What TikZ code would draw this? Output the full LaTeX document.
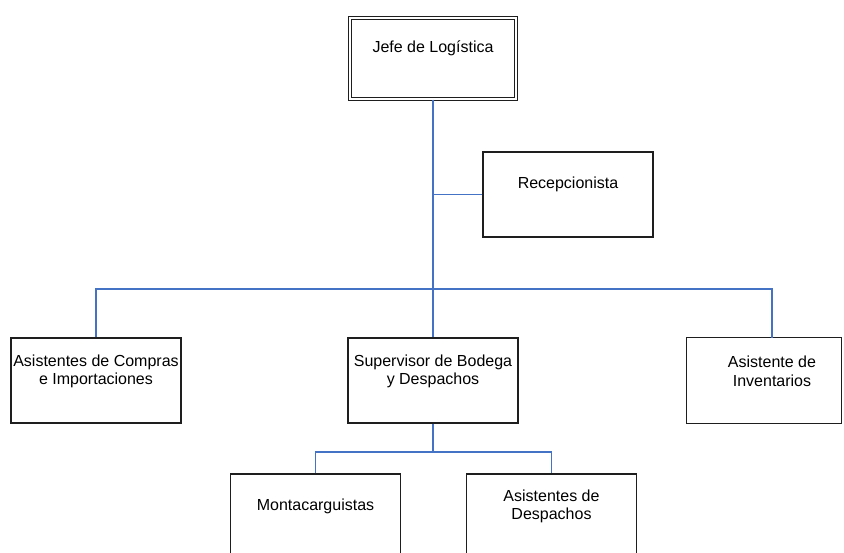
\documentclass[tikz,border=0pt]{standalone}
\usepackage{fontspec}
\setmainfont{Liberation Sans}
\definecolor{connblue}{RGB}{68,114,196}
\definecolor{boxline}{RGB}{30,30,30}
\begin{document}
\begin{tikzpicture}[x=1pt,y=-1pt,
  box/.style={draw=boxline, line width=1.3pt, minimum width=170pt, minimum height=85pt, inner sep=0pt},
  hiddenbox/.style={draw=none, minimum width=170pt, minimum height=85pt, inner sep=0pt},
  lbl/.style={align=center, inner sep=0pt, font=\fontsize{16}{18.5}\selectfont},
  conn/.style={draw=connblue, line width=1.3pt}]
\clip (0,0) rectangle (844,552);
\fill[white] (0,0) rectangle (844,552);
% boxes
\node[box, minimum width=166pt, minimum height=81pt, double=white, double distance=2.2pt, line width=1pt] (jefe) at (433,58.5) {};
\node[box] (recep) at (568,194.5) {};
\node[box] (compras) at (96,380.5) {};
\node[box] (sup) at (433,380.5) {};
\node[hiddenbox] (inv) at (772,380.5) {};
\draw[draw=boxline, line width=1.3pt] (inv.north west) rectangle ([xshift=-16pt]inv.south east);
\node[box] (monta) at (315.5,516.5) {};
\node[box] (desp) at (551.5,516.5) {};
% texts
\node[lbl] (jefeT) at ([yshift=10pt]jefe.center) {Jefe de Logística};
\node[lbl] (recepT) at ([yshift=10pt]recep.center) {Recepcionista};
\node[lbl] (comprasT) at ([yshift=9pt]compras.center) {Asistentes de Compras\\e Importaciones};
\node[lbl] (supT) at ([yshift=9pt]sup.center) {Supervisor de Bodega\\y Despachos};
\node[lbl] (invT) at ([yshift=9pt]inv.center) {Asistente de\\Inventarios};
\node[lbl] (montaT) at ([yshift=10pt]monta.center) {Montacarguistas};
\node[lbl] (despT) at ([yshift=10pt]desp.center) {Asistentes de\\Despachos};
% connectors
\coordinate (j1) at (433,289);
\coordinate (j2) at (433,452);
\draw[conn] (jefe.south) -- (j1) -- (sup.north);
\draw[conn] (recep.west) -- (recep.west -| jefe.south);
\draw[conn] (compras.north) |- (j1) -| (inv.north);
\draw[conn] (sup.south) -- (j2);
\draw[conn] (monta.north) |- (j2) -| (desp.north);
\end{tikzpicture}
\end{document}
